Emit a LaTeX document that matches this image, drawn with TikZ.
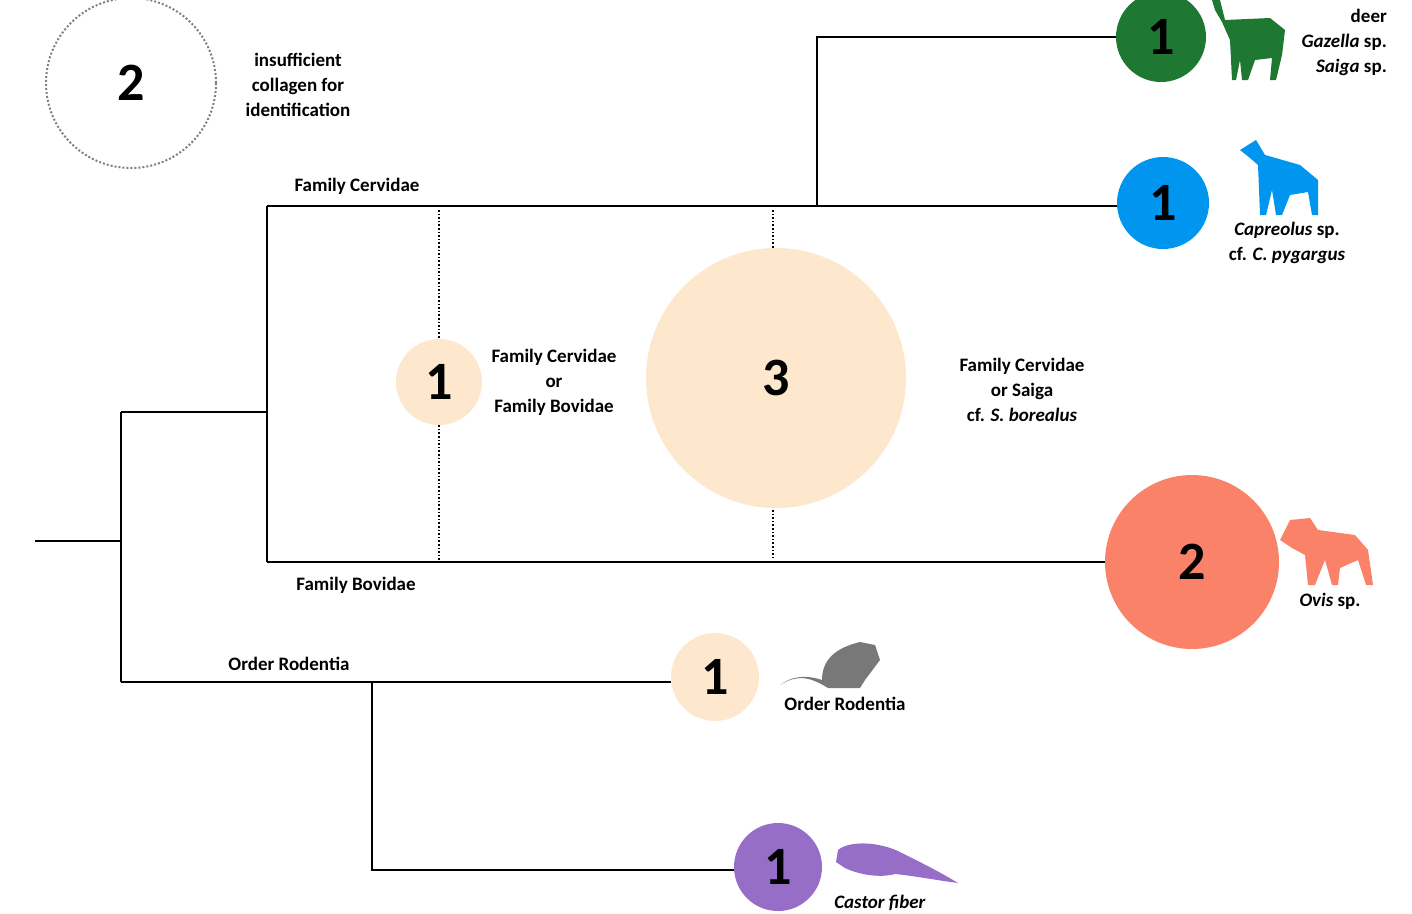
\documentclass[tikz,border=0pt]{standalone}
\usepackage{fontspec}
\setmainfont{Carlito}
\definecolor{deergreen}{RGB}{30,120,50}
\definecolor{roeblue}{RGB}{0,150,240}
\definecolor{oviscol}{RGB}{250,130,105}
\definecolor{peach}{RGB}{253,232,205}
\definecolor{castorcol}{RGB}{150,110,200}
\definecolor{mousegray}{RGB}{120,120,120}
\begin{document}
\begin{tikzpicture}[x=1pt,y=-1pt,
  branch/.style={line width=2.2pt},
  guide/.style={line width=1.6pt,dotted},
  count/.style={circle,inner sep=0pt,font=\fontsize{54}{54}\selectfont\bfseries},
  lbl/.style={font=\fontsize{19}{25}\selectfont\bfseries,align=center,inner sep=1pt}]
\useasboundingbox (0,0) rectangle (1412,913);

% counts
\node[count,draw=gray,dotted,line width=2pt,minimum size=170] (nocol) at (131,83) {2};
\node[count,fill=deergreen,minimum size=90] (deer) at (1161,37) {1};
\node[count,fill=roeblue,minimum size=92] (capr) at (1163,203) {1};
\node[count,fill=oviscol,minimum size=174] (ovis) at (1192,562) {2};
\node[count,fill=peach,minimum size=86] (cerbov) at (439,382) {1};
\node[count,fill=peach,minimum size=260] (saiga) at (776,378) {3};
\node[count,fill=peach,minimum size=88] (rod) at (715,677) {1};
\node[count,fill=castorcol,minimum size=88] (castor) at (778,867) {1};

% tree
\coordinate (root) at (35,541);
\coordinate (r1) at (121,541);
\coordinate (r2) at (121,412);
\coordinate (r3) at (121,682);
\coordinate (fam) at (267,412);
\coordinate (cer) at (267,206);
\coordinate (bov) at (267,562);
\coordinate (split) at (817,206);
\coordinate (splitup) at (817,37);
\coordinate (rsplit) at (372,682);
\coordinate (rdown) at (372,870);
\draw[branch] (root) -- (r1);
\draw[branch] (r2) -- (r3);
\draw[branch] (r2) -- (fam);
\draw[branch] (cer) -- (bov);
\draw[branch] (cer) -- (cer -| capr.west);
\draw[branch] (split) -- (splitup) -- (splitup -| deer.west);
\draw[branch] (bov) -- (bov -| ovis.west);
\draw[branch] (r3) -- (r3 -| rod.west);
\draw[branch] (rsplit) -- (rdown) -- (rdown -| castor.west);

% uncertain placements
\draw[guide] (439,210) -- (cerbov.north);
\draw[guide] (cerbov.south) -- (439,560);
\draw[guide] (773,210) -- (773,248);
\draw[guide] (773,510) -- (773,560);

% labels
\node[lbl] at (298,85) {insufficient\\collagen for\\identification};
\node[lbl] at (357,186) {Family Cervidae};
\node[lbl] at (356,585) {Family Bovidae};
\node[lbl] at (289,664) {Order Rodentia};
\node[lbl] at (554,382) {Family Cervidae\\or\\Family Bovidae};
\node[lbl] at (1022,390) {Family Cervidae\\or Saiga\\cf. \textit{S. borealus}};
\node[lbl,align=right,anchor=north east] at (1388,8) {deer\\\textit{Gazella} sp.\\\textit{Saiga} sp.};
\node[lbl] at (1287,243) {\textit{Capreolus} sp.\\cf. \textit{C. pygargus}};
\node[lbl] at (1330,601) {\textit{Ovis} sp.};
\node[lbl] at (845,704) {Order Rodentia};
\node[lbl] at (880,903) {\textit{Castor fiber}};

% silhouettes
\fill[deergreen] (1225,20) -- (1270,18) -- (1285,30) -- (1282,55) -- (1276,80) -- (1270,80) -- (1272,58) -- (1255,60) -- (1248,80) -- (1242,80) -- (1240,60) -- (1236,80) -- (1232,80) -- (1230,40) -- (1222,22) -- (1215,10) -- (1212,0) -- (1220,0) -- cycle;
\fill[roeblue] (1240,150) -- (1256,140) -- (1265,155) -- (1300,165) -- (1318,180) -- (1318,215) -- (1312,215) -- (1308,192) -- (1290,195) -- (1282,215) -- (1276,215) -- (1272,190) -- (1266,215) -- (1260,215) -- (1258,165) -- (1250,158) -- cycle;
\fill[oviscol] (1280,540) -- (1290,520) -- (1310,518) -- (1318,530) -- (1355,535) -- (1368,550) -- (1373,585) -- (1366,585) -- (1358,560) -- (1340,568) -- (1338,585) -- (1332,585) -- (1325,560) -- (1315,585) -- (1308,585) -- (1305,555) -- (1292,548) -- cycle;
\fill[mousegray] (780,685) .. controls (800,672) and (815,680) .. (828,688) -- (860,688) -- (865,680) -- (880,660) -- (875,645) -- (860,642) .. controls (835,648) and (822,660) .. (822,680) .. controls (810,676) and (795,674) .. (780,685) -- cycle;
\fill[castorcol] (838,850) .. controls (850,840) and (880,842) .. (900,852) .. controls (920,862) and (940,872) .. (958,883) .. controls (935,880) and (915,876) .. (895,874) .. controls (880,878) and (860,875) .. (845,868) -- (836,862) -- cycle;
\end{tikzpicture}
\end{document}
